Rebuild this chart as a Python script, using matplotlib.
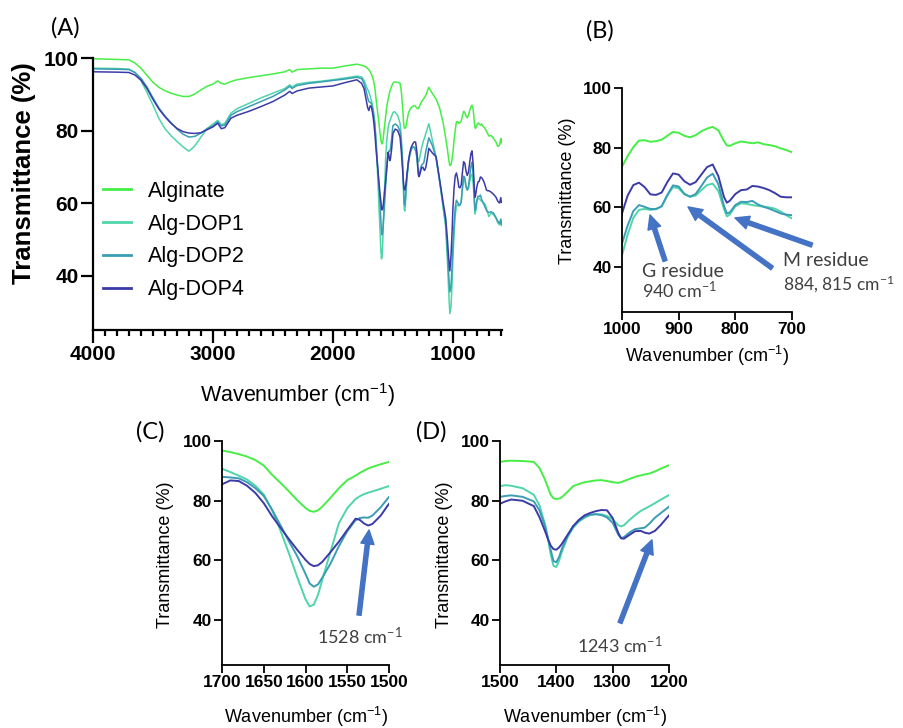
import matplotlib
matplotlib.use('Agg')
import matplotlib.pyplot as plt

# FTIR spectra (transmittance %) on a shared wavenumber grid, cm-1
wavenumber = [
    4000, 3800, 3700, 3650, 3600, 3550, 3500, 3450, 3400, 3350, 3300, 3250, 3200, 3150, 3100, 3050, 3000,
    2960, 2930, 2900, 2850, 2800, 2700, 2600, 2500, 2400, 2360, 2340, 2300, 2200, 2100, 2000, 1900, 1800,
    1760, 1740, 1720, 1710, 1700, 1690, 1680, 1670, 1660, 1650, 1640, 1630, 1620, 1610, 1600, 1595, 1590,
    1585, 1580, 1570, 1560, 1550, 1540, 1535, 1530, 1525, 1520, 1510, 1500,
    1490, 1480, 1460, 1440, 1430, 1420, 1415, 1410, 1405, 1400, 1395, 1390, 1380, 1370, 1360, 1350, 1340,
    1330, 1320, 1310, 1300, 1290, 1285, 1280, 1270, 1260, 1250, 1243, 1235, 1225, 1215, 1200,
    1170, 1140, 1110, 1080, 1060, 1045, 1035, 1025, 1015, 1005,
    1000, 990, 980, 970, 960, 950, 940, 930, 920, 910, 900, 890, 880, 870, 860, 850, 840, 830, 820, 815,
    810, 800, 790, 780, 770, 760, 750, 740, 730, 720, 710, 700,
    680, 660, 640, 625, 610, 600, 595,
]

alginate = [
    99.8, 99.6, 99.5, 98.6, 97.2, 95.2, 93.3, 91.9, 91.0, 90.3, 89.8, 89.4, 89.4, 90.1, 91.2, 92.2, 92.8,
    93.7, 93.0, 92.8, 93.5, 94.0, 94.6, 95.1, 95.6, 96.2, 96.8, 96.1, 96.8, 97.0, 97.2, 97.2, 97.8, 98.3,
    98.0, 97.8, 97.4, 97.1, 96.8, 96.3, 95.6, 94.8, 93.6, 91.8, 88.7, 86.0, 83.2, 80.2, 77.6, 76.6, 76.3,
    76.8, 78.0, 81.0, 84.2, 86.9, 88.4, 89.3, 90.1, 90.8, 91.3, 92.2, 93.0,
    93.3, 93.4, 93.3, 93.0, 91.0, 87.0, 84.5, 82.0, 80.8, 80.6, 80.7, 81.2, 83.0, 84.9, 85.6, 86.2, 86.5,
    86.8, 86.9, 86.6, 86.2, 86.0, 86.2, 86.6, 87.3, 88.0, 88.5, 88.8, 89.1, 89.8, 90.7, 91.9,
    90.2, 88.7, 86.2, 82.0, 78.0, 74.8, 72.2, 70.3, 70.6, 72.4,
    73.7, 77.2, 80.2, 82.4, 82.5, 82.0, 82.2, 82.7, 84.0, 85.3, 85.0, 84.0, 83.5, 84.2, 85.5, 86.4, 87.0,
    85.8, 82.2, 80.8, 80.6, 81.5, 82.1, 81.8, 81.5, 81.8, 81.2, 80.9, 80.5, 79.8, 79.2, 78.5,
    78.6, 77.8, 76.8, 75.6, 76.0, 77.8, 76.6,
]

alg_dop1 = [
    97.2, 97.1, 96.9, 96.0, 93.8, 90.5, 87.0, 83.3, 80.5, 78.6, 77.0, 75.5, 74.3, 75.8, 78.2, 80.5, 81.8,
    82.8, 81.6, 82.0, 84.8, 86.0, 87.5, 89.0, 90.3, 91.6, 92.6, 92.0, 92.8, 93.3, 93.6, 94.0, 94.5, 95.0,
    94.8, 93.8, 92.0, 91.3, 90.7, 89.6, 88.4, 87.1, 85.0, 82.1, 76.8, 70.0, 62.5, 54.5, 47.0, 44.6, 45.2,
    48.5, 53.5, 63.0, 72.5, 77.5, 80.6, 81.5, 82.2, 82.7, 83.1, 84.0, 84.9,
    85.2, 85.0, 84.2, 82.0, 78.5, 72.0, 67.5, 62.0, 58.2, 57.8, 60.0, 63.0, 67.8, 71.0, 73.0, 74.3, 75.2,
    75.5, 75.4, 74.9, 73.8, 71.8, 71.4, 71.8, 73.6, 75.2, 76.6, 77.3, 78.1, 79.2, 80.3, 81.9,
    77.2, 72.8, 66.0, 58.5, 53.5, 44.0, 36.0, 29.5, 31.5, 39.0,
    44.0, 51.0, 56.5, 59.2, 59.5, 59.2, 59.4, 60.4, 64.0, 66.8, 66.4, 64.4, 63.6, 64.0, 65.8, 67.5, 68.0,
    65.5, 59.5, 57.0, 57.6, 60.4, 61.4, 61.2, 60.8, 60.5, 60.3, 60.0, 59.6, 58.6, 57.4, 56.3,
    57.2, 56.8, 55.8, 54.5, 54.0, 55.2, 53.8,
]

alg_dop2 = [
    97.0, 96.9, 96.8, 96.0, 94.4, 92.0, 89.0, 86.2, 84.0, 82.2, 80.4, 79.0, 78.2, 78.4, 79.3, 80.5, 81.3,
    82.4, 81.3, 81.5, 84.2, 85.2, 86.6, 88.0, 89.4, 91.2, 92.2, 91.6, 92.4, 93.0, 93.4, 93.8, 94.2, 94.7,
    94.3, 93.0, 90.5, 89.0, 88.0, 87.8, 87.5, 86.2, 84.2, 81.6, 77.0, 71.8, 66.5, 61.5, 55.5, 52.3, 51.2,
    52.0, 54.2, 59.0, 64.8, 69.8, 73.5, 74.2, 74.4, 74.3, 75.0, 77.8, 81.3,
    81.6, 81.8, 81.3, 79.8, 76.8, 71.5, 67.5, 63.5, 59.8, 59.4, 61.2, 64.0, 68.2, 71.5, 73.3, 74.6, 75.3,
    75.5, 75.2, 74.4, 72.6, 68.6, 67.5, 67.8, 69.4, 70.5, 70.8, 71.0, 72.3, 74.3, 75.8, 78.0,
    75.8, 72.5, 66.0, 59.0, 54.5, 46.5, 40.5, 35.5, 37.0, 43.5,
    47.9, 54.0, 58.8, 60.8, 60.2, 59.5, 59.5, 60.4, 64.2, 67.4, 67.0, 64.6, 63.6, 64.5, 67.2, 70.0, 71.3,
    67.8, 60.5, 58.0, 58.3, 60.8, 61.9, 61.8, 62.2, 61.0, 60.2, 59.6, 58.8, 58.0, 57.6, 57.4,
    57.6, 57.2, 56.0, 55.0, 54.4, 55.6, 54.2,
]

alg_dop4 = [
    96.2, 96.1, 96.0, 95.3, 93.9, 91.6, 88.6, 85.9, 83.8, 82.0, 80.6, 79.7, 79.3, 79.2, 79.4, 80.2, 81.0,
    82.0, 80.5, 80.8, 83.4, 84.2, 85.3, 86.6, 88.0, 89.8, 90.8, 90.2, 90.9, 91.7, 92.0, 92.3, 93.2, 94.0,
    93.0, 91.5, 88.0, 86.3, 85.5, 86.8, 86.6, 85.0, 82.6, 79.2, 74.8, 71.0, 67.2, 63.6, 60.2, 58.8, 58.1,
    58.4, 59.5, 62.8, 66.3, 70.2, 74.0, 73.6, 72.4, 71.7, 72.2, 75.0, 79.0,
    79.8, 80.4, 80.0, 78.2, 74.5, 69.8, 67.2, 65.0, 63.8, 63.6, 64.4, 65.6, 68.6, 71.5, 73.6, 75.1, 75.9,
    76.5, 76.9, 76.8, 74.2, 69.2, 67.4, 67.3, 68.6, 69.8, 69.9, 69.3, 69.0, 69.9, 71.8, 75.1,
    73.8, 72.8, 66.5, 60.0, 56.0, 50.0, 45.0, 41.3, 45.5, 53.0,
    58.0, 64.0, 67.5, 68.3, 66.8, 64.4, 64.2, 65.0, 68.5, 71.4, 71.0, 68.8, 67.6, 68.5, 71.0, 73.5, 74.4,
    70.5, 63.5, 61.6, 62.2, 64.5, 65.8, 66.0, 67.2, 67.0, 66.5, 65.8, 64.8, 63.6, 63.4, 63.4,
    63.0, 62.4, 61.6, 60.5, 60.0, 61.5, 60.2,
]

names = ['Alginate', 'Alg-DOP1', 'Alg-DOP2', 'Alg-DOP4']
spectra = [alginate, alg_dop1, alg_dop2, alg_dop4]
colors = ['#46ee46', '#4fd5aa', '#3a9db4', '#3b3ba8']

arrow_blue = '#4472c4'
note_grey = '#404040'

plt.rcParams['font.family'] = 'Liberation Sans'
plt.rcParams['mathtext.fontset'] = 'custom'
plt.rcParams['mathtext.rm'] = 'Liberation Sans'
plt.rcParams['mathtext.default'] = 'regular'

W, H = 904, 728
fig = plt.figure(figsize=(W / 100, H / 100), dpi=100)


def add_panel(left, top, right, bottom):
    return fig.add_axes([left / W, 1 - bottom / H, (right - left) / W, (bottom - top) / H])


def style_axes(ax, xlim, xticks, tick_size, spine_w, tick_len):
    for side in ['top', 'right']:
        ax.spines[side].set_visible(False)
    for side in ['left', 'bottom']:
        ax.spines[side].set_linewidth(spine_w)
    ax.set_xlim(*xlim)
    ax.set_ylim(25, 100)
    ax.set_xticks(xticks, [str(t) for t in xticks], fontsize=tick_size, fontweight='bold')
    ax.set_yticks([40, 60, 80, 100], ['40', '60', '80', '100'], fontsize=tick_size, fontweight='bold')
    ax.tick_params(which='major', length=tick_len, width=spine_w, pad=1.5)


def plot_spectra(ax, lw):
    for name, y, c in zip(names, spectra, colors):
        ax.plot(wavenumber, y, color=c, lw=lw, label=name)


def draw_arrow(ax, tail, head):
    ax.annotate('', xy=head, xytext=tail, annotation_clip=False,
                arrowprops=dict(arrowstyle='simple,head_length=1.0,head_width=0.95,tail_width=0.3',
                                mutation_scale=10, color=arrow_blue, shrinkA=0, shrinkB=0))


def note(ax, x, y, s, size):
    ax.text(x, y, s, transform=ax.transAxes, fontsize=size, family='Lato',
            color=note_grey, ha='left', va='center')


def small_labels(ax, ylab_x, ylab_y, xlab_y):
    ax.set_ylabel('Transmittance (%)', fontsize=13)
    ax.yaxis.label.set_va('center')
    ax.yaxis.set_label_coords(ylab_x, ylab_y)
    ax.set_xlabel('Wavenumber (cm$^{-1}$)', fontsize=13)
    ax.xaxis.label.set_va('center')
    ax.xaxis.set_label_coords(0.5, xlab_y)


# (A) full spectrum
axA = add_panel(93, 58, 502, 330)
plot_spectra(axA, 1.1)
style_axes(axA, (4000, 590), [4000, 3000, 2000, 1000], 15, 1.6, 9)
axA.set_xticks(range(3900, 590, -100), minor=True)
axA.tick_params(which='minor', length=4.5, width=1.6)
axA.set_ylabel('Transmittance (%)', fontsize=18.5, fontweight='bold')
axA.yaxis.label.set_va('center')
axA.yaxis.set_label_coords(-0.169, 0.575)
axA.set_xlabel('Wavenumber (cm$^{-1}$)', fontsize=15.5)
axA.xaxis.label.set_va('center')
axA.xaxis.set_label_coords(0.5, -0.24)
leg = axA.legend(loc='upper left', bbox_to_anchor=(0.024, 0.549), frameon=False, fontsize=15.5,
                 borderaxespad=0, borderpad=0, handlelength=1.3, handletextpad=0.8, labelspacing=0.55)
for ln in leg.get_lines():
    ln.set_linewidth(2.0)

# (B) 1000-700 cm-1
axB = add_panel(622, 88, 792, 312)
plot_spectra(axB, 1.4)
style_axes(axB, (1000, 700), [1000, 900, 800, 700], 12.5, 1.3, 6)
small_labels(axB, -0.318, 0.54, -0.196)
draw_arrow(axB, (924, 42.1), (950.6, 57.5))
draw_arrow(axB, (735, 39.7), (883.5, 60.2))
draw_arrow(axB, (664.7, 47.4), (800.6, 56.5))
note(axB, 0.118, 0.183, 'G residue', 14)
note(axB, 0.118, 0.094, '940 cm$^{-1}$', 13)
note(axB, 0.947, 0.232, 'M residue', 14)
note(axB, 0.947, 0.121, '884, 815 cm$^{-1}$', 12.5)

# (C) 1700-1500 cm-1
axC = add_panel(222, 441, 389, 665)
plot_spectra(axC, 1.4)
style_axes(axC, (1700, 1500), [1700, 1650, 1600, 1550, 1500], 12.5, 1.3, 6)
small_labels(axC, -0.34, 0.49, -0.232)
draw_arrow(axC, (1535.9, 41.7), (1523.9, 70.2))
note(axC, 0.569, 0.129, '1528 cm$^{-1}$', 13)

# (D) 1500-1200 cm-1
axD = add_panel(500, 441, 669, 665)
plot_spectra(axD, 1.4)
style_axes(axD, (1500, 1200), [1500, 1400, 1300, 1200], 12.5, 1.3, 6)
small_labels(axD, -0.33, 0.49, -0.232)
draw_arrow(axD, (1287, 39.1), (1230.2, 66.9))
note(axD, 0.456, 0.089, '1243 cm$^{-1}$', 13)

# panel letters
for letter, x, y in [('(A)', 65, 28), ('(B)', 600, 31), ('(C)', 150, 432), ('(D)', 431, 432)]:
    fig.text(x / W, 1 - y / H, letter, fontsize=17, family='Lato', ha='center', va='center')

fig.savefig('out.png', dpi=100)
